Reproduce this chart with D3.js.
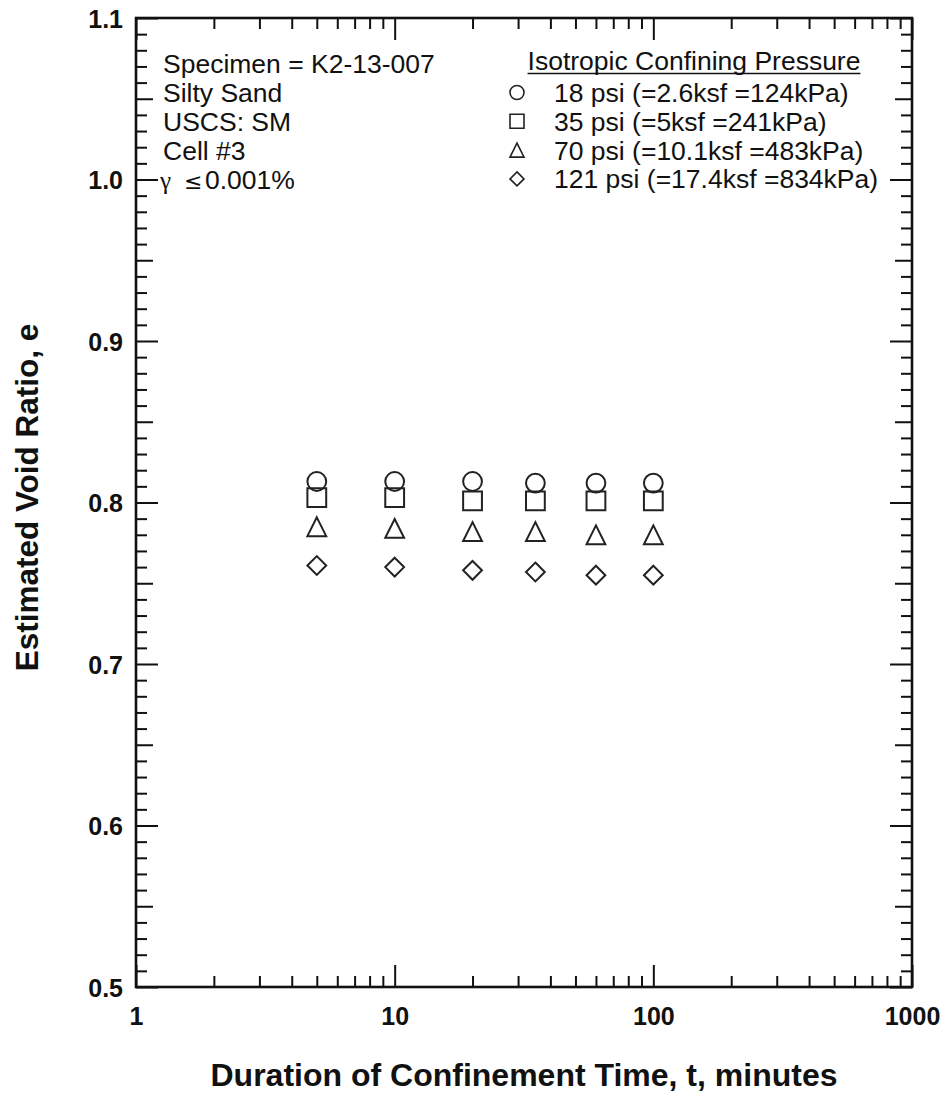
<!DOCTYPE html>
<html>
<head>
<meta charset="utf-8">
<script src="https://cdn.jsdelivr.net/npm/d3@7"></script>
<style>
  html, body { margin: 0; padding: 0; background: #fff; }
  svg { display: block; }
  text { font-family: "Liberation Sans", Arial, Helvetica, sans-serif; fill: #111; }
</style>
</head>
<body>
<svg id="chart" width="947" height="1095"></svg>
<script>
// Confinement duration (minutes) at which the void ratio was estimated
const times = [5, 10, 20, 35, 60, 100];

// Estimated void ratio for each isotropic confining pressure
const e18psi  = [0.813, 0.813, 0.813, 0.812, 0.812, 0.812];
const e35psi  = [0.803, 0.803, 0.801, 0.801, 0.801, 0.801];
const e70psi  = [0.785, 0.784, 0.782, 0.782, 0.780, 0.780];
const e121psi = [0.761, 0.760, 0.758, 0.757, 0.755, 0.755];

const seriesLabels = [
  "18 psi (=2.6ksf =124kPa)",
  "35 psi (=5ksf =241kPa)",
  "70 psi (=10.1ksf =483kPa)",
  "121 psi (=17.4ksf =834kPa)"
];
const seriesShapes = ["circle", "square", "triangle", "diamond"];
const legendTitle = "Isotropic Confining Pressure";

const infoLines = ["Specimen = K2-13-007", "Silty Sand", "USCS: SM", "Cell #3"];

// Axis ticks
const xTickValues = [1, 10, 100, 1000];
const xTickLabels = ["1", "10", "100", "1000"];
const yTickValues = [0.5, 0.6, 0.7, 0.8, 0.9, 1.0, 1.1];
const yTickLabels = ["0.5", "0.6", "0.7", "0.8", "0.9", "1.0", "1.1"];

const xTitle = "Duration of Confinement Time, t, minutes";
const yTitle = "Estimated Void Ratio, e";

// ---------------------------------------------------------------
const svg = d3.select("#chart");
const L = 136, R = 912, T = 18, B = 987;

const x = d3.scaleLog().domain([1, 1000]).range([L, R]);
const y = d3.scaleLinear().domain([0.5, 1.1]).range([B, T]);

// minor / mid y ticks (every 0.01 and every 0.05)
const yMinor = d3.range(50, 111).filter(i => i % 5 !== 0).map(i => i / 100);
const yMid = d3.range(55, 111, 10).map(i => i / 100);
// minor log ticks 2..9 in each decade
const xMinor = [];
[1, 10, 100].forEach(d => { for (let k = 2; k <= 9; k++) xMinor.push(d * k); });

const lenMinor = 11, lenMid = 17, lenMajor = 22;

function styleAxis(g) {
  g.select(".domain").remove();
  g.selectAll(".tick line").attr("stroke", "#111").attr("stroke-width", 2);
  g.selectAll(".tick text")
    .style("font-size", "25px").style("font-weight", "bold").attr("fill", "#111");
}

// left axis
svg.append("g").attr("transform", `translate(${L},0)`)
  .call(d3.axisLeft(y).tickValues(yMinor).tickSize(-lenMinor).tickFormat("")).call(styleAxis);
svg.append("g").attr("transform", `translate(${L},0)`)
  .call(d3.axisLeft(y).tickValues(yMid).tickSize(-lenMid).tickFormat("")).call(styleAxis);
svg.append("g").attr("transform", `translate(${L},0)`)
  .call(d3.axisLeft(y).tickValues(yTickValues).tickSize(-lenMajor).tickPadding(13)
    .tickFormat((d, i) => yTickLabels[i])).call(styleAxis)
  .selectAll(".tick text").attr("dy", "0.36em");

// right axis (mirrored, no labels)
svg.append("g").attr("transform", `translate(${R},0)`)
  .call(d3.axisRight(y).tickValues(yMinor).tickSize(-lenMinor).tickFormat("")).call(styleAxis);
svg.append("g").attr("transform", `translate(${R},0)`)
  .call(d3.axisRight(y).tickValues(yMid).tickSize(-lenMid).tickFormat("")).call(styleAxis);
svg.append("g").attr("transform", `translate(${R},0)`)
  .call(d3.axisRight(y).tickValues(yTickValues).tickSize(-lenMajor).tickFormat("")).call(styleAxis);

// bottom axis
svg.append("g").attr("transform", `translate(0,${B})`)
  .call(d3.axisBottom(x).tickValues(xMinor).tickSize(-lenMinor).tickFormat("")).call(styleAxis);
svg.append("g").attr("transform", `translate(0,${B})`)
  .call(d3.axisBottom(x).tickValues(xTickValues).tickSize(-lenMajor).tickPadding(20)
    .tickFormat((d, i) => xTickLabels[i])).call(styleAxis)
  .selectAll(".tick text").attr("dy", "0.71em");

// top axis
svg.append("g").attr("transform", `translate(0,${T})`)
  .call(d3.axisTop(x).tickValues(xMinor).tickSize(-lenMinor).tickFormat("")).call(styleAxis);
svg.append("g").attr("transform", `translate(0,${T})`)
  .call(d3.axisTop(x).tickValues(xTickValues).tickSize(-lenMajor).tickFormat("")).call(styleAxis);

// plot frame
svg.append("rect")
  .attr("x", L).attr("y", T).attr("width", R - L).attr("height", B - T)
  .attr("fill", "none").attr("stroke", "#111").attr("stroke-width", 2.6);

// axis titles
svg.append("text")
  .attr("x", (L + R) / 2).attr("y", 1086)
  .attr("text-anchor", "middle")
  .style("font-size", "32px").style("font-weight", "bold")
  .text(xTitle);

svg.append("text")
  .attr("transform", `translate(38,${(T + B) / 2 - 5}) rotate(-90)`)
  .attr("text-anchor", "middle")
  .style("font-size", "31.5px").style("font-weight", "bold")
  .text(yTitle);

// marker shapes, s = half size
function shapePath(type, cx, cy, s) {
  switch (type) {
    case "circle": {
      const p = d3.path(); p.arc(cx, cy, s, 0, 2 * Math.PI); return p.toString();
    }
    case "square":
      return `M${cx - s},${cy - s}H${cx + s}V${cy + s}H${cx - s}Z`;
    case "triangle":
      return `M${cx},${cy - s}L${cx + s},${cy + s}L${cx - s},${cy + s}Z`;
    case "diamond":
      return `M${cx},${cy - s}L${cx + s},${cy}L${cx},${cy + s}L${cx - s},${cy}Z`;
  }
}

const series = [e18psi, e35psi, e70psi, e121psi];
series.forEach((vals, si) => {
  svg.append("g").selectAll("path")
    .data(times.map((t, i) => ({ t, e: vals[i] })))
    .join("path")
    .attr("d", d => shapePath(seriesShapes[si], x(d.t), y(d.e), 9.4))
    .attr("fill", "none")
    .attr("stroke", "#222")
    .attr("stroke-width", 2);
});

// specimen info block
const info = svg.append("g").style("font-size", "26.5px");
infoLines.forEach((s, i) => {
  info.append("text").attr("x", 163).attr("y", 73 + 29 * i).text(s);
});
const gam = info.append("text").attr("x", 160).attr("y", 73 + 29 * 4);
gam.append("tspan").style("font-family", "'Liberation Serif', 'DejaVu Serif', serif")
  .style("font-size", "25px").text("γ");
gam.append("tspan").attr("x", 184).style("font-family", "'DejaVu Sans', sans-serif")
  .style("font-size", "22px").text("≤");
gam.append("tspan").attr("x", 205).text("0.001%");

// legend
const leg = svg.append("g").style("font-size", "26.5px");
const lt = leg.append("text").attr("x", 694).attr("y", 70)
  .attr("text-anchor", "middle").text(legendTitle);
const bb = lt.node().getBBox();
leg.append("line")
  .attr("x1", bb.x).attr("x2", bb.x + bb.width)
  .attr("y1", 73.5).attr("y2", 73.5)
  .attr("stroke", "#111").attr("stroke-width", 1.6);

seriesLabels.forEach((s, i) => {
  const cy = 92.5 + 28.8 * i;
  leg.append("path")
    .attr("d", shapePath(seriesShapes[i], 517, cy, 7))
    .attr("fill", "none").attr("stroke", "#222").attr("stroke-width", 1.6);
  leg.append("text").attr("x", 554).attr("y", cy + 9.5).text(s);
});
</script>
</body>
</html>
